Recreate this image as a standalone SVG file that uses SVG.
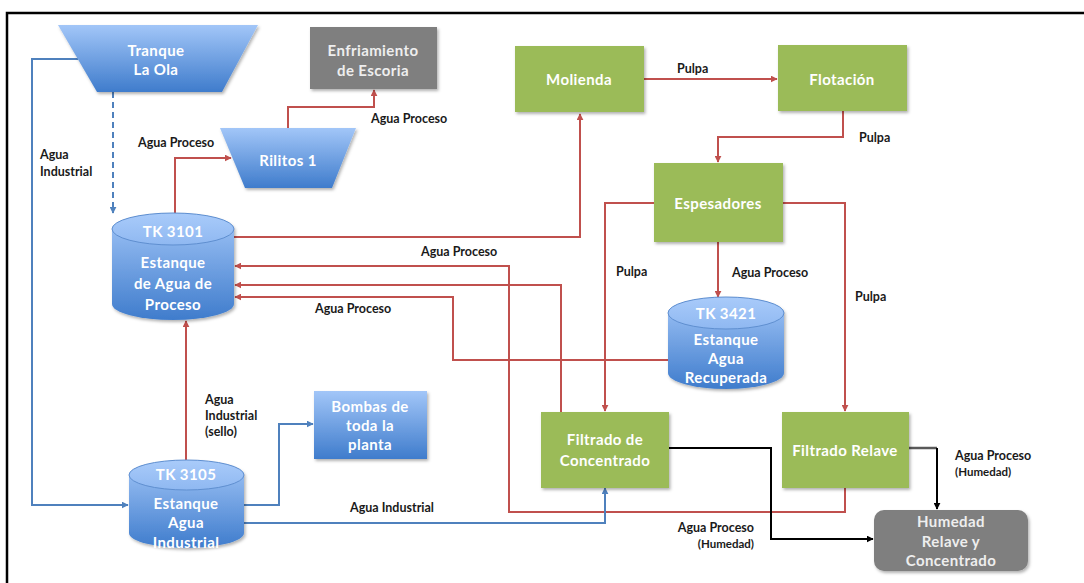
<svg xmlns="http://www.w3.org/2000/svg" width="1084" height="583" viewBox="0 0 1084 583">
<defs>
  <linearGradient id="gBlue" x1="0" y1="0" x2="0" y2="1">
    <stop offset="0" stop-color="#a2c6f8"/>
    <stop offset="1" stop-color="#3f7ccc"/>
  </linearGradient>
  <linearGradient id="gTop" x1="0" y1="0" x2="0" y2="1">
    <stop offset="0" stop-color="#a9cbfa"/>
    <stop offset="1" stop-color="#8fb8f1"/>
  </linearGradient>
  <filter id="sh" x="-10%" y="-10%" width="125%" height="130%">
    <feDropShadow dx="1.5" dy="2" stdDeviation="1.5" flood-color="#000" flood-opacity="0.3"/>
  </filter>
  <marker id="aR" viewBox="0 0 10 10" refX="9" refY="5" markerWidth="7" markerHeight="7" markerUnits="userSpaceOnUse" orient="auto">
    <path d="M0,0 L10,5 L0,10 z" fill="#c0504d"/>
  </marker>
  <marker id="aB" viewBox="0 0 10 10" refX="9" refY="5" markerWidth="7" markerHeight="7" markerUnits="userSpaceOnUse" orient="auto">
    <path d="M0,0 L10,5 L0,10 z" fill="#4f81bd"/>
  </marker>
  <marker id="aK" viewBox="0 0 10 10" refX="9" refY="5" markerWidth="7" markerHeight="7" markerUnits="userSpaceOnUse" orient="auto">
    <path d="M0,0 L10,5 L0,10 z" fill="#000"/>
  </marker>
</defs>
<style>
  .frame { fill: none; stroke: #000; stroke-width: 2.5; }
  .green { fill: #9bbb59; filter: url(#sh); }
  .gray { fill: #7f7f7f; filter: url(#sh); }
  .blue { fill: url(#gBlue); filter: url(#sh); }
  .cylTop { fill: url(#gTop); stroke: #5f8fd0; stroke-width: 1; }
  .nt { font-family: Lato, "Open Sans", "Liberation Sans", sans-serif; font-weight: 700; font-size: 15px; letter-spacing: 0.4px; fill: #ffffff; text-anchor: middle; dominant-baseline: central; }
  .gt { fill: #eeeeee; }
  .lbl { font-family: Lato, "Liberation Sans", sans-serif; font-weight: 700; font-size: 12.5px; fill: #1a1a1a; }
  .sm { font-size: 11.5px; }
  .r { fill: none; stroke: #c0504d; stroke-width: 2; }
  .b { fill: none; stroke: #4f81bd; stroke-width: 2; }
  .k { fill: none; stroke: #000; stroke-width: 2; }
  .kg { fill: none; stroke: #595959; stroke-width: 2.5; }
</style>
<rect class="frame" x="7" y="13" width="1090" height="590"/>

<g id="connectors">
  <path class="r" d="M288,128 V107 H374 V90" marker-end="url(#aR)"/>
  <path class="r" d="M175,214 V158 H231" marker-end="url(#aR)"/>
  <path class="r" d="M234,237 H580 V114" marker-end="url(#aR)"/>
  <path class="r" d="M644,79 H777" marker-end="url(#aR)"/>
  <path class="r" d="M843,111 V137 H718 V162" marker-end="url(#aR)"/>
  <path class="r" d="M654,203 H605 V411" marker-end="url(#aR)"/>
  <path class="r" d="M783,203 H845 V411" marker-end="url(#aR)"/>
  <path class="r" d="M718,242 V297" marker-end="url(#aR)"/>
  <path class="r" d="M845,487 V512 H509 V266 H235" marker-end="url(#aR)"/>
  <path class="r" d="M561,412 V285 H235" marker-end="url(#aR)"/>
  <path class="r" d="M668,360 H453 V297 H235" marker-end="url(#aR)"/>
  <path class="r" d="M186,460 V321" marker-end="url(#aR)"/>
  <path class="b" d="M78,59 H32 V505 H128" marker-end="url(#aB)"/>
  <path class="b" d="M113,92 V213" stroke-dasharray="6,4" marker-end="url(#aB)"/>
  <path class="b" d="M244,505 H279 V424 H313" marker-end="url(#aB)"/>
  <path class="b" d="M235,523 H605 V488" marker-end="url(#aB)"/>
  <path class="k" d="M668,448 H771 V539 H873" marker-end="url(#aK)"/>
  <path class="kg" d="M908,448 H937"/>
  <path class="k" d="M937,448 V509" marker-end="url(#aK)"/>
</g>

<g id="labels">
  <text class="lbl" x="371" y="123">Agua Proceso</text>
  <text class="lbl" x="138" y="147">Agua Proceso</text>
  <text class="lbl" x="40" y="159">Agua</text>
  <text class="lbl" x="40" y="176">Industrial</text>
  <text class="lbl" x="677" y="73">Pulpa</text>
  <text class="lbl" x="859" y="142">Pulpa</text>
  <text class="lbl" x="421" y="256">Agua Proceso</text>
  <text class="lbl" x="315" y="313">Agua Proceso</text>
  <text class="lbl" x="616" y="276">Pulpa</text>
  <text class="lbl" x="732" y="277">Agua Proceso</text>
  <text class="lbl" x="855" y="301">Pulpa</text>
  <text class="lbl" x="205" y="404">Agua</text>
  <text class="lbl" x="205" y="420">Industrial</text>
  <text class="lbl" x="205" y="436">(sello)</text>
  <text class="lbl" x="350" y="512">Agua Industrial</text>
  <text class="lbl" x="754" y="532" text-anchor="end">Agua Proceso</text>
  <text class="lbl sm" x="754" y="548" text-anchor="end">(Humedad)</text>
  <text class="lbl" x="955" y="460">Agua Proceso</text>
  <text class="lbl sm" x="955" y="476">(Humedad)</text>
</g>

<g id="tranque">
  <polygon class="blue" points="58,25 258,25 222,92 97,92"/>
  <text class="nt" x="156" y="50">Tranque</text>
  <text class="nt" x="156" y="69">La Ola</text>
</g>

<g id="enfriamiento">
  <rect class="gray" x="310" y="27" width="127" height="62"/>
  <text class="nt gt" x="373" y="50">Enfriamiento</text>
  <text class="nt gt" x="373" y="70">de Escoria</text>
</g>

<g id="rilitos">
  <polygon class="blue" points="220,128 356,128 332,188 245,188"/>
  <text class="nt" x="288" y="160">Rilitos 1</text>
</g>

<g id="molienda">
  <rect class="green" x="515" y="46" width="129" height="66"/>
  <text class="nt" x="579" y="79">Molienda</text>
</g>

<g id="flotacion">
  <rect class="green" x="778" y="45" width="129" height="66"/>
  <text class="nt" x="842" y="79">Flotación</text>
</g>

<g id="espesadores">
  <rect class="green" x="654" y="163" width="129" height="79"/>
  <text class="nt" x="718" y="203">Espesadores</text>
</g>

<g id="tk3101">
  <path class="blue" d="M112,229 V304 A61,16 0 0 0 234,304 V229 A61,16 0 0 0 112,229 Z"/>
  <ellipse class="cylTop" cx="173" cy="229" rx="61" ry="16"/>
  <text class="nt" x="173" y="231">TK 3101</text>
  <text class="nt" x="173" y="262">Estanque</text>
  <text class="nt" x="173" y="283">de Agua de</text>
  <text class="nt" x="173" y="304">Proceso</text>
</g>

<g id="tk3421">
  <path class="blue" d="M668,313 V373 A58,16 0 0 0 784,373 V313 A58,16 0 0 0 668,313 Z"/>
  <ellipse class="cylTop" cx="726" cy="313" rx="58" ry="16"/>
  <text class="nt" x="726" y="313">TK 3421</text>
  <text class="nt" x="726" y="339">Estanque</text>
  <text class="nt" x="726" y="358">Agua</text>
  <text class="nt" x="726" y="377">Recuperada</text>
</g>

<g id="tk3105">
  <path class="blue" d="M129,475 V533 A57.5,15 0 0 0 244,533 V475 A57.5,15 0 0 0 129,475 Z"/>
  <ellipse class="cylTop" cx="186.5" cy="475" rx="57.5" ry="15"/>
  <text class="nt" x="186" y="474">TK 3105</text>
  <text class="nt" x="186" y="503">Estanque</text>
  <text class="nt" x="186" y="522">Agua</text>
  <text class="nt" x="186" y="542">Industrial</text>
</g>

<g id="bombas">
  <rect class="blue" x="314" y="391" width="113" height="68"/>
  <text class="nt" x="370" y="406">Bombas de</text>
  <text class="nt" x="370" y="425">toda la</text>
  <text class="nt" x="370" y="444">planta</text>
</g>

<g id="filtrado-concentrado">
  <rect class="green" x="541" y="412" width="128" height="76"/>
  <text class="nt" x="605" y="439">Filtrado de</text>
  <text class="nt" x="605" y="460">Concentrado</text>
</g>

<g id="filtrado-relave">
  <rect class="green" x="782" y="412" width="127" height="76"/>
  <text class="nt" x="845" y="450">Filtrado Relave</text>
</g>

<g id="humedad">
  <rect class="gray" x="874" y="510" width="154" height="61" rx="10"/>
  <text class="nt gt" x="951" y="521">Humedad</text>
  <text class="nt gt" x="951" y="541">Relave y</text>
  <text class="nt gt" x="951" y="560">Concentrado</text>
</g>
</svg>
